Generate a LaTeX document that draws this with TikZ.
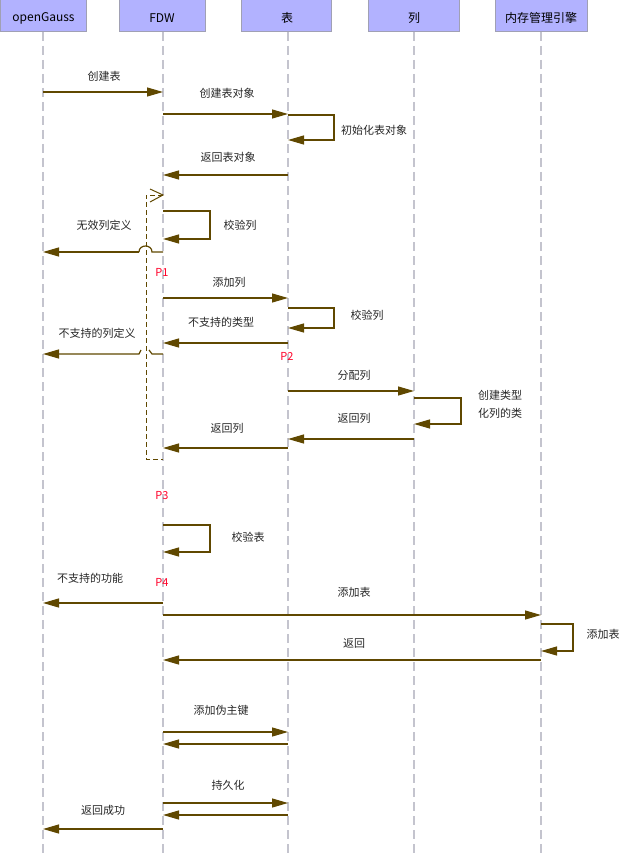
\documentclass[tikz,border=0pt]{standalone}
\usepackage{fontspec}
\setmainfont{Noto Sans CJK SC}
\usetikzlibrary{arrows.meta}
\definecolor{arr}{RGB}{96,72,0}
\definecolor{hdrfill}{RGB}{178,178,255}
\definecolor{hdrline}{RGB}{160,160,180}
\definecolor{lifec}{RGB}{196,196,206}
\definecolor{pred}{RGB}{255,0,40}
\newcommand\Msg[3]{\draw[msg] (#1|-0,#3) -- (#2|-0,#3);}
\newcommand\SelfMsg[4]{\draw[msg] (#1|-0,#2) -- ++(#4,0) |- (#1|-0,#3);}
\begin{document}
\begin{tikzpicture}[x=1pt,y=-1pt,
  hdr/.style={draw=hdrline,fill=hdrfill,line width=1pt,minimum height=32pt,inner sep=0pt,font=\fontsize{12}{14}\selectfont,text depth=0pt},
  life/.style={draw=lifec,line width=1.4pt,dash pattern=on 9pt off 5pt},
  msg/.style={draw=arr,line width=1.2pt,-{Triangle[length=16pt,width=9pt]}},
  lbl/.style={inner sep=0pt,font=\fontsize{11}{13}\selectfont,text=black!85},
  ptag/.style={inner sep=0pt,font=\fontsize{11}{12}\selectfont,text=pred},
  frame/.style={draw=arr,line width=1pt,dash pattern=on 5pt off 3pt}]
\useasboundingbox (0,0) rectangle (630,853);
% headers
\node[hdr,minimum width=86pt] (hog)  at (43.5,16) {};
\node[hdr,minimum width=86pt] (hfdw) at (162,16) {};
\node[hdr,minimum width=90pt] (htb)  at (286,16) {};
\node[hdr,minimum width=91pt] (hlie) at (413.5,16) {};
\node[hdr,minimum width=92pt] (hmem) at (541,16) {};
\node[lbl,font=\fontsize{12}{14}\selectfont,text=black] (tog) at (43.5,18) {openGauss};
\node[lbl,font=\fontsize{12}{14}\selectfont,text=black] (tfdw) at (162,18) {FDW};
\node[lbl,font=\fontsize{12}{14}\selectfont,text=black] (ttb) at (287,18) {表};
\node[lbl,font=\fontsize{12}{14}\selectfont,text=black] (tlie) at (414,18) {列};
\node[lbl,font=\fontsize{12}{14}\selectfont,text=black] (tmem) at (541,18) {内存管理引擎};
% lifelines
\coordinate (og)  at (43,32);
\coordinate (fdw) at (163,32);
\coordinate (tb)  at (288,32);
\coordinate (lie) at (414,32);
\coordinate (mem) at (541,32);
\foreach \c in {og,fdw,tb,lie,mem} {\draw[life] (\c) -- (\c|-0,853);}
% messages
\Msg{og}{fdw}{92}
\node[lbl] (l1) at (104,76) {创建表};
\Msg{fdw}{tb}{114}
\node[lbl] (l2) at (227,93) {创建表对象};
\SelfMsg{tb}{115}{140}{46}
\node[lbl,anchor=west] (l3) at (341,130) {初始化表对象};
\Msg{tb}{fdw}{175}
\node[lbl] (l4) at (228,157) {返回表对象};
% loop frame
\coordinate (fa) at (146,195);
\coordinate (fb) at (146,459);
\draw[frame] (fdw|-0,195) -- (fa) -- (fb) -- (fdw|-0,459);
\draw[draw=arr,line width=1pt] (150,189) -- (fdw|-0,195) -- (150,202);
% check columns
\SelfMsg{fdw}{211}{239}{47}
\node[lbl] (l5) at (240,225) {校验列};
\draw[draw=arr,line width=1.2pt] (fdw|-0,252) -- (152,252) .. controls (152,244) and (139,244) .. (139,252);
\draw[msg] (139,252) -- (og|-0,252);
\node[lbl] (l6) at (104,225) {无效列定义};
\node[ptag] (p1) at (162,272) {P1};
\Msg{fdw}{tb}{298}
\node[lbl] (l7) at (229,282) {添加列};
\SelfMsg{tb}{308}{328}{46}
\node[lbl] (l8) at (367,315) {校验列};
\Msg{tb}{fdw}{343}
\node[lbl] (l9) at (221,322) {不支持的类型};
\draw[draw=arr,line width=1.2pt] (fdw|-0,354) -- (152,354) -- (149,350);
\draw[msg] (141,350) -- (139,354) -- (og|-0,354);
\node[lbl] (l10) at (97,333) {不支持的列定义};
\node[ptag] (p2) at (287,356) {P2};
\Msg{tb}{lie}{391}
\node[lbl] (l11) at (354,375) {分配列};
\SelfMsg{lie}{398}{424}{47}
\node[lbl,anchor=west,align=left,font=\fontsize{11}{18}\selectfont] (l12) at (478,404) {创建类型\\化列的类};
\Msg{lie}{tb}{439}
\node[lbl] (l13) at (354,418) {返回列};
\Msg{tb}{fdw}{448}
\node[lbl] (l14) at (227,428) {返回列};
\node[ptag] (p3) at (162,496) {P3};
\SelfMsg{fdw}{525}{552}{47}
\node[lbl] (l15) at (248,537) {校验表};
\node[lbl] (l16) at (90,578) {不支持的功能};
\node[ptag] (p4) at (162,582) {P4};
\Msg{fdw}{og}{603}
\Msg{fdw}{mem}{615}
\node[lbl] (l17) at (354,592) {添加表};
\SelfMsg{mem}{624}{651}{32}
\node[lbl] (l18) at (603,634) {添加表};
\Msg{mem}{fdw}{660}
\node[lbl] (l19) at (354,643) {返回};
\Msg{fdw}{tb}{732}
\node[lbl] (l20) at (221,710) {添加伪主键};
\Msg{tb}{fdw}{744}
\Msg{fdw}{tb}{803}
\node[lbl] (l21) at (228,785) {持久化};
\Msg{tb}{fdw}{815}
\Msg{fdw}{og}{829}
\node[lbl] (l22) at (103,810) {返回成功};
\end{tikzpicture}
\end{document}
